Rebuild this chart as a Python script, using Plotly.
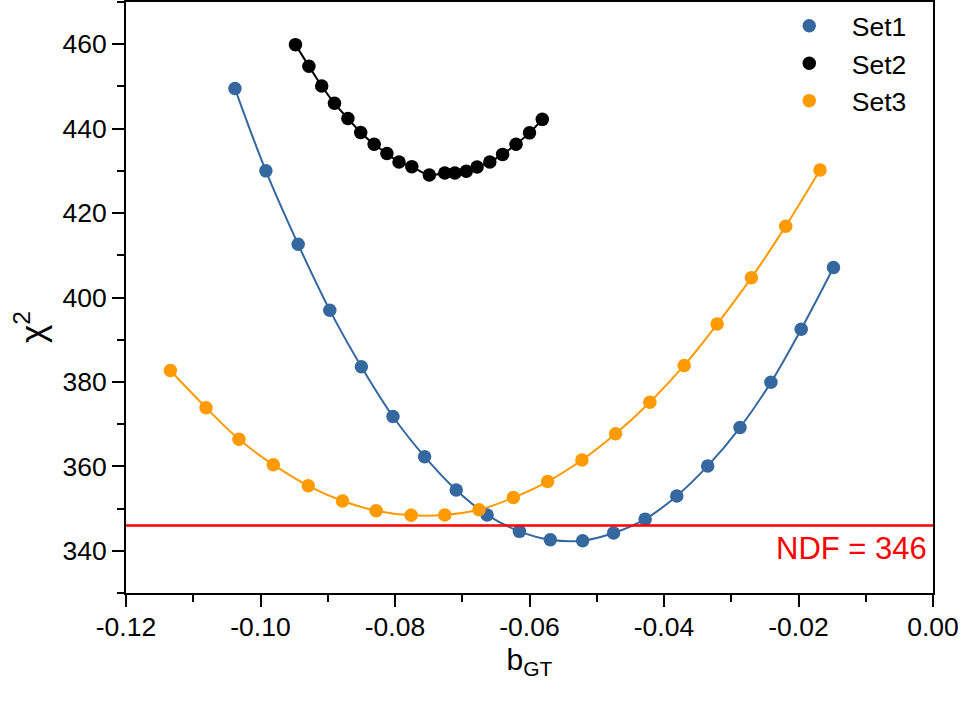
import plotly.graph_objects as go

# ---- data ----
set1_x = [-0.1038, -0.0992, -0.0944, -0.0897, -0.0850, -0.0803, -0.0756, -0.0709, -0.0663, -0.0615,
          -0.0569, -0.0521, -0.0475, -0.0428, -0.0381, -0.0335, -0.0287, -0.0241, -0.0196, -0.0148]
set1_y = [449.5, 430.0, 412.6, 397.0, 383.6, 371.8, 362.3, 354.4, 348.5, 344.6,
          342.6, 342.4, 344.2, 347.5, 353.0, 360.1, 369.2, 379.9, 392.5, 407.1]

set2_x = [-0.0948, -0.0928, -0.0909, -0.0890, -0.0870, -0.0851, -0.0831, -0.0812, -0.0794, -0.0775,
          -0.0749, -0.0726, -0.0711, -0.0694, -0.0678, -0.0659, -0.0640, -0.0620, -0.0600, -0.0581]
set2_y = [459.9, 454.8, 450.1, 446.0, 442.4, 439.1, 436.3, 434.1, 432.1, 431.0,
          429.0, 429.5, 429.5, 429.9, 430.9, 432.1, 433.9, 436.3, 439.0, 442.2]

set3_x = [-0.1134, -0.1081, -0.1032, -0.0981, -0.0929, -0.0878, -0.0828, -0.0776, -0.0726, -0.0675,
          -0.0624, -0.0573, -0.0522, -0.0472, -0.0421, -0.0370, -0.0321, -0.0270, -0.0219, -0.0168]
set3_y = [382.7, 373.9, 366.4, 360.4, 355.4, 351.8, 349.5, 348.4, 348.5, 349.7,
          352.6, 356.4, 361.5, 367.7, 375.2, 383.9, 393.7, 404.7, 416.9, 430.2]

ndf_value = 346
x_tickvals = [-0.12, -0.10, -0.08, -0.06, -0.04, -0.02, 0.00]
x_ticktext = ["-0.12", "-0.10", "-0.08", "-0.06", "-0.04", "-0.02", "0.00"]
y_tickvals = [340, 360, 380, 400, 420, 440, 460]
y_ticktext = ["340", "360", "380", "400", "420", "440", "460"]

series = [
    ("Set1", set1_x, set1_y, "#35689E"),
    ("Set2", set2_x, set2_y, "#000000"),
    ("Set3", set3_x, set3_y, "#FF9A00"),
]

FONT = "Liberation Sans, Arial, sans-serif"

fig = go.Figure()
for name, xs, ys, col in series:
    fig.add_trace(go.Scatter(x=xs, y=ys, mode="lines", line=dict(color=col, width=2, shape="spline"),
                             showlegend=False, hoverinfo="skip"))
for name, xs, ys, col in series:
    fig.add_trace(go.Scatter(x=xs, y=ys, mode="markers", name=name,
                             marker=dict(color=col, size=13.5, line=dict(width=0))))

fig.add_shape(type="line", xref="paper", x0=0, x1=1, yref="y", y0=ndf_value, y1=ndf_value,
              line=dict(color="#FF0000", width=2.5))
fig.add_annotation(xref="paper", x=0.995, yref="y", y=ndf_value, text=f"NDF = {ndf_value}",
                   showarrow=False, xanchor="right", yanchor="top", yshift=-4,
                   font=dict(family=FONT, size=31, color="#FF0000"))

# y-axis title (placed as annotation to match the reference offset)
fig.add_annotation(xref="paper", x=-0.119, yref="paper", y=0.45, text="χ<sup>2</sup>",
                   showarrow=False, textangle=-90, xanchor="center", yanchor="middle",
                   font=dict(family=FONT, size=35, color="black"))

axis_common = dict(showline=True, linecolor="black", linewidth=2, mirror=True,
                   ticks="outside", ticklen=12, tickwidth=2, tickcolor="black",
                   showgrid=False, zeroline=False,
                   tickfont=dict(family=FONT, size=26.5, color="black"))

fig.update_xaxes(range=[-0.12, 0.0], tickvals=x_tickvals, ticktext=x_ticktext,
                 minor=dict(ticks="outside", ticklen=7, tickwidth=2, tickcolor="black", dtick=0.01,
                            tick0=0, showgrid=False),
                 ticklabelstandoff=-3,
                 title=dict(text="b<sub>GT</sub>", font=dict(family=FONT, size=30, color="black"), standoff=8),
                 **axis_common)
fig.update_yaxes(range=[330, 470], tickvals=y_tickvals, ticktext=y_ticktext,
                 minor=dict(ticks="outside", ticklen=7, tickwidth=2, tickcolor="black", dtick=10,
                            tick0=0, showgrid=False),
                 **axis_common)

fig.update_layout(
    width=962, height=701,
    margin=dict(l=126, r=29, t=2, b=108, autoexpand=False),
    plot_bgcolor="white", paper_bgcolor="white",
    legend=dict(x=0.794, y=1.0, xanchor="left", yanchor="top", bgcolor="rgba(0,0,0,0)",
                font=dict(family=FONT, size=26.5, color="black"), itemwidth=75,
                tracegroupgap=0),
    showlegend=True,
)

fig.write_html("out.html", config={"displayModeBar": False},
               post_script="document.body.style.margin='0';")
